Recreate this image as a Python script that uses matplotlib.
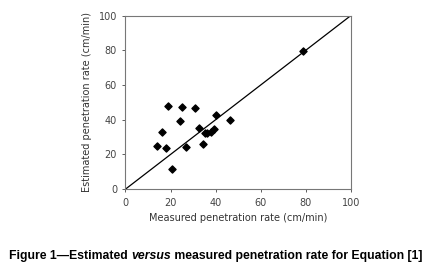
import matplotlib
matplotlib.use("Agg")
import matplotlib.pyplot as plt

measured = [13.8, 16.4, 17.8, 18.7, 20.6, 24.1, 25.3, 26.8, 30.8, 32.7,
            34.2, 35.1, 36.0, 37.8, 39.4, 40.4, 46.2, 78.8]
estimated = [25.0, 33.2, 23.8, 48.2, 11.9, 39.4, 47.6, 24.2, 46.9, 35.1,
             26.3, 32.1, 32.1, 33.0, 34.9, 42.8, 40.1, 79.5]
ticks = [0, 20, 40, 60, 80, 100]
caption = [("Figure 1\u2014Estimated ", "normal"),
           ("versus", "italic"),
           (" measured penetration rate for Equation [1]", "normal")]

fig = plt.figure(figsize=(4.31, 2.73), dpi=100)
ax = fig.add_axes([0.291, 0.307, 0.523, 0.636])

ax.plot([0, 100], [0, 100], color="black", lw=0.9)
ax.scatter(measured, estimated, marker="D", s=13, color="black", zorder=3)

ax.set_xlim(0, 100)
ax.set_ylim(0, 100)
ax.set_xticks(ticks)
ax.set_yticks(ticks)
ax.tick_params(labelsize=7, colors="#444444", length=2.5, width=0.6)
for s in ax.spines.values():
    s.set_color("#777777")
    s.set_linewidth(0.8)

ax.set_xlabel("Measured penetration rate (cm/min)", fontsize=7, color="#333333", labelpad=4)
ax.set_ylabel("Estimated penetration rate (cm/min)", fontsize=7, color="#333333", labelpad=5)

# caption pieces laid out one after another, then centred
renderer = fig.canvas.get_renderer()
pieces = []
x = 0
for txt, style in caption:
    t = fig.text(x, 0.064, txt, fontsize=8.85, fontweight="bold", style=style,
                 family="Liberation Sans", va="center", ha="left")
    w = t.get_window_extent(renderer).width / fig.bbox.width
    pieces.append((t, x))
    x += w
start = 0.5 - x / 2
for t, off in pieces:
    t.set_x(start + off)

fig.savefig("out.png", dpi=100)
